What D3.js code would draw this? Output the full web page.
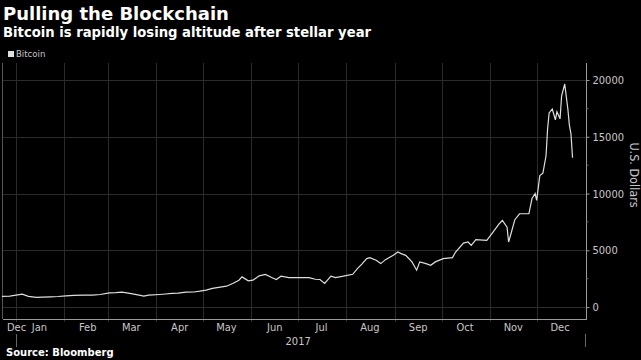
<!DOCTYPE html>
<html>
<head>
<meta charset="utf-8">
<script src="https://cdn.jsdelivr.net/npm/d3@7"></script>
<style>
    html, body { margin: 0; padding: 0; background: #000; }
    svg { display: block; }
</style>
</head>
<body>
<div class="chart__container"></div>
<script>
/*---------------------------Init---------------------------*/

const CHART__WIDTH = 641;
const CHART__HEIGHT = 360;
const PLOT = {
    left: 3,
    right: 586,
    top: 63,
    bottom: 319,
}
const COLOR = {
    bg: "#000000",
    line: "#dedede",
    grid: "#2b2b2b",
    axis: "#9a9a9a",
    text: "#c8c8c8",
    title: "#ffffff",
}

//data

const DATES = [
    "2016-12-23", "2016-12-28", "2017-01-01", "2017-01-05", "2017-01-09", "2017-01-14", "2017-01-18", "2017-01-23",
    "2017-01-28", "2017-02-02", "2017-02-07", "2017-02-13", "2017-02-19", "2017-02-24", "2017-03-02", "2017-03-06",
    "2017-03-10", "2017-03-15", "2017-03-21", "2017-03-24", "2017-03-27", "2017-04-03", "2017-04-07", "2017-04-11",
    "2017-04-15", "2017-04-20", "2017-04-25", "2017-04-29", "2017-05-03", "2017-05-07", "2017-05-12", "2017-05-16",
    "2017-05-20", "2017-05-24", "2017-05-26", "2017-05-30", "2017-06-02", "2017-06-06", "2017-06-10", "2017-06-14",
    "2017-06-17", "2017-06-20", "2017-06-25", "2017-07-02", "2017-07-08", "2017-07-12", "2017-07-15", "2017-07-18",
    "2017-07-22", "2017-07-25", "2017-07-30", "2017-08-05", "2017-08-08", "2017-08-11", "2017-08-14", "2017-08-16",
    "2017-08-20", "2017-08-23", "2017-08-26", "2017-08-31", "2017-09-03", "2017-09-05", "2017-09-08", "2017-09-12",
    "2017-09-15", "2017-09-17", "2017-09-21", "2017-09-24", "2017-09-27", "2017-10-02", "2017-10-08", "2017-10-10",
    "2017-10-15", "2017-10-18", "2017-10-20", "2017-10-23", "2017-10-30", "2017-11-03", "2017-11-07", "2017-11-09",
    "2017-11-12", "2017-11-13", "2017-11-15", "2017-11-17", "2017-11-20", "2017-11-26", "2017-11-28", "2017-11-30",
    "2017-12-01", "2017-12-03", "2017-12-05", "2017-12-07", "2017-12-08", "2017-12-09", "2017-12-11", "2017-12-13",
    "2017-12-14", "2017-12-16", "2017-12-17", "2017-12-19", "2017-12-21", "2017-12-22", "2017-12-23", "2017-12-24"
];
const BITCOIN = [
    940, 970, 1050, 1140, 950, 850, 880, 905,
    930, 990, 1030, 1050, 1060, 1110, 1255, 1270,
    1315, 1200, 1050, 960, 1050, 1110, 1150, 1200,
    1230, 1315, 1330, 1400, 1500, 1640, 1760, 1840,
    2080, 2370, 2660, 2310, 2370, 2750, 2870, 2600,
    2430, 2720, 2600, 2600, 2600, 2450, 2430, 2080,
    2720, 2600, 2720, 2890, 3390, 3800, 4270, 4360,
    4120, 3830, 4180, 4560, 4850, 4710, 4560, 3980,
    3250, 3980, 3830, 3680, 3980, 4270, 4360, 4850,
    5640, 5730, 5440, 5940, 5880, 6610, 7340, 7630,
    7040, 5730, 6700, 7700, 8220, 8220, 9560, 10000,
    9400, 11580, 11800, 13330, 15700, 17100, 17450, 16500,
    17200, 16580, 18600, 19650, 17450, 16000, 15260, 13160
];
const MONTH_LABELS = ["Jan", "Feb", "Mar", "Apr", "May", "Jun", "Jul", "Aug", "Sep", "Oct", "Nov", "Dec"];
const Y_TICKS = [0, 5000, 10000, 15000, 20000];
const Y_MINOR_TICKS = [2500, 7500, 12500, 17500];

/*---------------------------Draw---------------------------*/

const parseDate = d3.timeParse("%Y-%m-%d");
const series = DATES.map((d, i) => ({ date: parseDate(d), value: BITCOIN[i] }));

const svg = d3.select(".chart__container").append("svg")
    .attr("width", CHART__WIDTH)
    .attr("height", CHART__HEIGHT)
    .style("background-color", COLOR.bg)
    .style("font-family", "'DejaVu Sans Condensed', 'DejaVu Sans', sans-serif");

const xScale = d3.scaleTime()
    .domain([new Date(2016, 11, 23, 16), new Date(2018, 0, 1)])
    .range([PLOT.left, PLOT.right - 1]);
const yScale = d3.scaleLinear()
    .domain([-1050, 21500])
    .range([PLOT.bottom, PLOT.top]);

const monthStarts = d3.timeMonth.range(new Date(2017, 0, 1), new Date(2018, 0, 1));

//create gridlines

const grid = svg.append("g").attr("class", "grid");

grid.selectAll(".vgrid")
    .data(monthStarts)
    .enter()
    .append("line")
    .attr("x1", d => Math.round(xScale(d)) + 0.5)
    .attr("x2", d => Math.round(xScale(d)) + 0.5)
    .attr("y1", PLOT.top)
    .attr("y2", PLOT.bottom + 3)
    .attr("stroke", COLOR.grid);

grid.selectAll(".hgrid")
    .data(Y_TICKS)
    .enter()
    .append("line")
    .attr("x1", PLOT.left)
    .attr("x2", PLOT.right)
    .attr("y1", d => Math.round(yScale(d)) + 0.5)
    .attr("y2", d => Math.round(yScale(d)) + 0.5)
    .attr("stroke", COLOR.grid);

//frame: left border and x-axis line

svg.append("line")
    .attr("x1", PLOT.left - 0.5).attr("x2", PLOT.left - 0.5)
    .attr("y1", PLOT.top).attr("y2", PLOT.bottom)
    .attr("stroke", "#555");

svg.append("line")
    .attr("x1", PLOT.left).attr("x2", PLOT.right)
    .attr("y1", PLOT.bottom + 0.5).attr("y2", PLOT.bottom + 0.5)
    .attr("stroke", COLOR.axis);

//create y-axis (right)

const ordinate = d3.axisRight(yScale)
    .tickValues(Y_TICKS)
    .tickSize(3)
    .tickPadding(3)
    .tickFormat(d3.format("d"));

const yAxis = svg.append("g")
    .attr("transform", `translate(${PLOT.right + 0.5},0)`)
    .call(ordinate);
yAxis.select(".domain")
    .attr("d", `M0,${PLOT.top}V${PLOT.bottom + 1}`)
    .attr("stroke", COLOR.axis);
yAxis.selectAll(".tick line").attr("stroke", COLOR.axis);
yAxis.selectAll(".tick text")
    .attr("fill", COLOR.text)
    .style("font-size", "11px")
    .style("font-family", "'DejaVu Sans Condensed', sans-serif");

yAxis.selectAll(".minor")
    .data(Y_MINOR_TICKS)
    .enter()
    .append("line")
    .attr("x1", 0).attr("x2", 2)
    .attr("y1", d => yScale(d)).attr("y2", d => yScale(d))
    .attr("stroke", "#666");

svg.append("text")
    .attr("transform", `translate(${CHART__WIDTH - 11},${(PLOT.top + PLOT.bottom) / 2 - 16}) rotate(90)`)
    .attr("text-anchor", "middle")
    .attr("fill", COLOR.text)
    .style("font-size", "12.5px")
    .text("U.S. Dollars");

//create x-axis labels

const xLabels = svg.append("g").attr("class", "x-labels");

xLabels.selectAll("text")
    .data(monthStarts)
    .enter()
    .append("text")
    .attr("x", (d, i) => xScale(d3.timeDay.offset(d, 15)))
    .attr("y", PLOT.bottom + 12)
    .attr("text-anchor", "middle")
    .attr("fill", COLOR.text)
    .style("font-size", "11px")
    .text((d, i) => MONTH_LABELS[i]);

xLabels.append("text")
    .attr("x", PLOT.left + 4)
    .attr("y", PLOT.bottom + 12)
    .attr("fill", COLOR.text)
    .style("font-size", "11px")
    .text("Dec");

xLabels.append("text")
    .attr("x", xScale(new Date(2017, 6, 1)))
    .attr("y", PLOT.bottom + 26)
    .attr("text-anchor", "middle")
    .attr("fill", COLOR.text)
    .style("font-size", "11px")
    .text("2017");

//year dividers

xLabels.selectAll(".year-div")
    .data([new Date(2017, 0, 1), new Date(2018, 0, 1)])
    .enter()
    .append("line")
    .attr("x1", d => Math.round(xScale(d)) + 0.5)
    .attr("x2", d => Math.round(xScale(d)) + 0.5)
    .attr("y1", PLOT.bottom + 15)
    .attr("y2", PLOT.bottom + 28)
    .attr("stroke", "#666");

//create line

const line = d3.line()
    .x(d => xScale(d.date))
    .y(d => yScale(d.value));

svg.append("path")
    .datum(series)
    .attr("d", line)
    .attr("fill", "none")
    .attr("stroke", COLOR.line)
    .attr("stroke-width", 1.2)
    .attr("stroke-linejoin", "miter");

//create title

svg.append("text")
    .attr("x", 3)
    .attr("y", 20)
    .attr("fill", COLOR.title)
    .style("font-family", "'DejaVu Sans', sans-serif")
    .style("font-weight", "bold")
    .style("font-size", "18px")
    .text("Pulling the Blockchain");

svg.append("text")
    .attr("x", 3)
    .attr("y", 37)
    .attr("fill", COLOR.title)
    .style("font-family", "'DejaVu Sans', sans-serif")
    .style("font-weight", "bold")
    .style("font-size", "13.2px")
    .text("Bitcoin is rapidly losing altitude after stellar year");

//create legend

svg.append("rect")
    .attr("x", 8).attr("y", 51)
    .attr("width", 6).attr("height", 6)
    .attr("fill", COLOR.line);

svg.append("text")
    .attr("x", 16)
    .attr("y", 57)
    .attr("fill", COLOR.text)
    .style("font-size", "9.5px")
    .text("Bitcoin");

//create source

svg.append("text")
    .attr("x", 6)
    .attr("y", 356)
    .attr("fill", COLOR.title)
    .style("font-family", "'DejaVu Sans', sans-serif")
    .style("font-weight", "bold")
    .style("font-size", "10px")
    .text("Source: Bloomberg");
</script>
</body>
</html>
